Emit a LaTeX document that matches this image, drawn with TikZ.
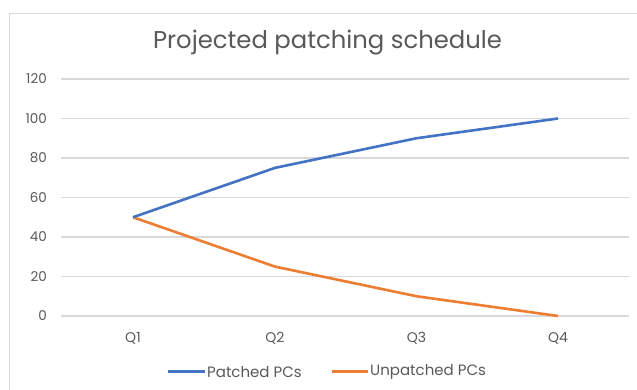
\documentclass[tikz,border=0pt]{standalone}
\usepackage{fontspec}
\setmainfont{Poppins}
\definecolor{gridc}{HTML}{D9D9D9}
\definecolor{txtc}{HTML}{595959}
\definecolor{bluec}{HTML}{4472C4}
\definecolor{orangec}{HTML}{ED7D31}
\begin{document}
\begin{tikzpicture}[x=1pt,y=-1pt,
  grid/.style={draw=gridc,line width=1.1pt},
  frame/.style={draw=gridc,line width=1.3pt},
  ylab/.style={anchor=east,text=txtc,font=\fontsize{13.5}{15}\selectfont,inner sep=0pt},
  xlab/.style={anchor=center,text=txtc,font=\fontsize{14}{16}\selectfont,inner sep=0pt},
  leglab/.style={anchor=west,text=txtc,font=\fontsize{15}{17}\selectfont,inner sep=0pt},
  series/.style={line width=2.6pt,line join=round},
  pt/.style={inner sep=0pt,minimum size=0pt}]
\useasboundingbox[fill=white] (0,0) rectangle (637,390);
% frame
\draw[frame] (9.5,390) -- (9.5,13.5) -- (637,13.5);
% title
\node[text=txtc,font=\fontsize{24.3}{28}\selectfont,inner sep=0pt] (title) at (327.5,43) {Projected patching schedule};
% gridlines and y labels
\foreach \v [count=\i from 0] in {0,20,40,60,80,100,120}{
  \pgfmathsetmacro{\yy}{316-39.5*\i}
  \draw[grid] (61,\yy) -- (629,\yy);
  \node[ylab] (y\v) at (47,\yy) {\v};
}
% category labels
\node[xlab] (q1) at (133,338) {Q1};
\node[xlab] (q2) at (275,338) {Q2};
\node[xlab] (q3) at (416.5,338) {Q3};
\node[xlab] (q4) at (558,338) {Q4};
% data points (value v -> y = 316 - 1.975 v)
\node[pt] (p1) at (133,217.25) {};
\node[pt] (p2) at (275,167.875) {};
\node[pt] (p3) at (416.5,138.25) {};
\node[pt] (p4) at (558,118.5) {};
\node[pt] (u1) at (133,217.25) {};
\node[pt] (u2) at (275,266.625) {};
\node[pt] (u3) at (416.5,296.25) {};
\node[pt] (u4) at (558,316) {};
\draw[series,orangec] (u1.center) -- (u2.center) -- (u3.center) -- (u4.center);
\draw[series,bluec] (p1.center) -- (p2.center) -- (p3.center) -- (p4.center);
% legend
\coordinate (lb1) at (168,371.5);
\coordinate (lb2) at (205,371.5);
\draw[series,bluec,line cap=butt] (lb1) -- (lb2);
\node[leglab] (lt1) at (207,372) {Patched PCs};
\coordinate (lo1) at (332,371.5);
\coordinate (lo2) at (368,371.5);
\draw[series,orangec,line cap=butt] (lo1) -- (lo2);
\node[leglab] (lt2) at (370,372) {Unpatched PCs};
\end{tikzpicture}
\end{document}
